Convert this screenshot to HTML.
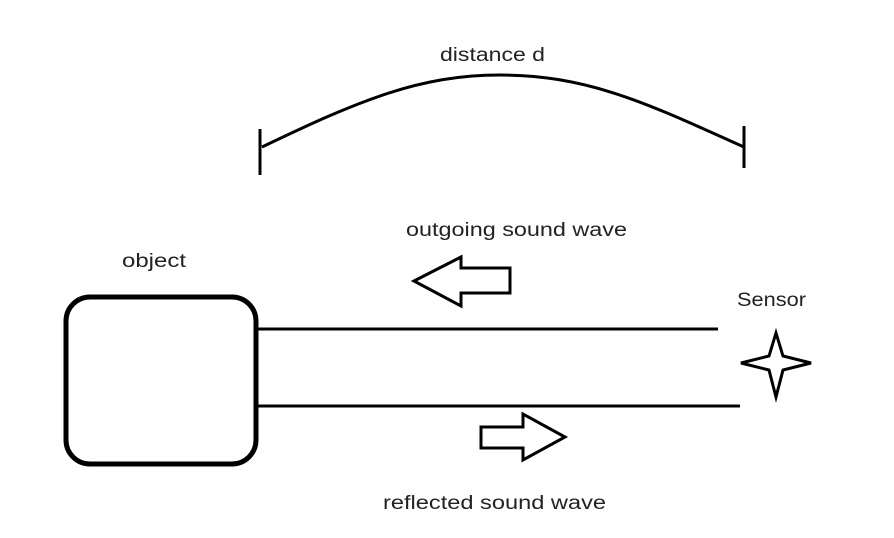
<!DOCTYPE html>
<html><head><meta charset="utf-8"><style>
html,body{margin:0;padding:0;background:#fff;}
svg{display:block;}
text{font-family:"Liberation Sans",sans-serif;font-size:19px;fill:#222;}
</style></head><body>
<svg width="894" height="538" viewBox="0 0 894 538">
<text x="440" y="61" textLength="105" lengthAdjust="spacingAndGlyphs">distance d</text>
<path d="M262,147 C360,100 420,75 500,75 C590,75 650,105 744,147" fill="none" stroke="#000" stroke-width="3"/>
<line x1="260" y1="129" x2="260" y2="175" stroke="#000" stroke-width="3"/>
<line x1="744" y1="126" x2="744" y2="168" stroke="#000" stroke-width="3"/>
<text x="406" y="236" textLength="221" lengthAdjust="spacingAndGlyphs">outgoing sound wave</text>
<polygon points="414,281 461,257 461,268 510,268 510,293 461,293 461,306" fill="#fff" stroke="#000" stroke-width="3"/>
<text x="122" y="267" textLength="64" lengthAdjust="spacingAndGlyphs">object</text>
<rect x="66" y="297" width="190" height="167" rx="24" fill="none" stroke="#000" stroke-width="5"/>
<line x1="256" y1="329" x2="718" y2="329" stroke="#000" stroke-width="3"/>
<line x1="256" y1="406" x2="740" y2="406" stroke="#000" stroke-width="3"/>
<text x="737" y="306" textLength="69" lengthAdjust="spacingAndGlyphs">Sensor</text>
<polygon points="776,333 783,356 811,363 783,370 776,397 769,370 741,363 769,356" fill="#fff" stroke="#000" stroke-width="3" stroke-linejoin="miter"/>
<polygon points="481,427 523,427 523,414 565,437 523,460 523,448 481,448" fill="#fff" stroke="#000" stroke-width="3"/>
<text x="383" y="509" textLength="223" lengthAdjust="spacingAndGlyphs">reflected sound wave</text>
</svg>
</body></html>
